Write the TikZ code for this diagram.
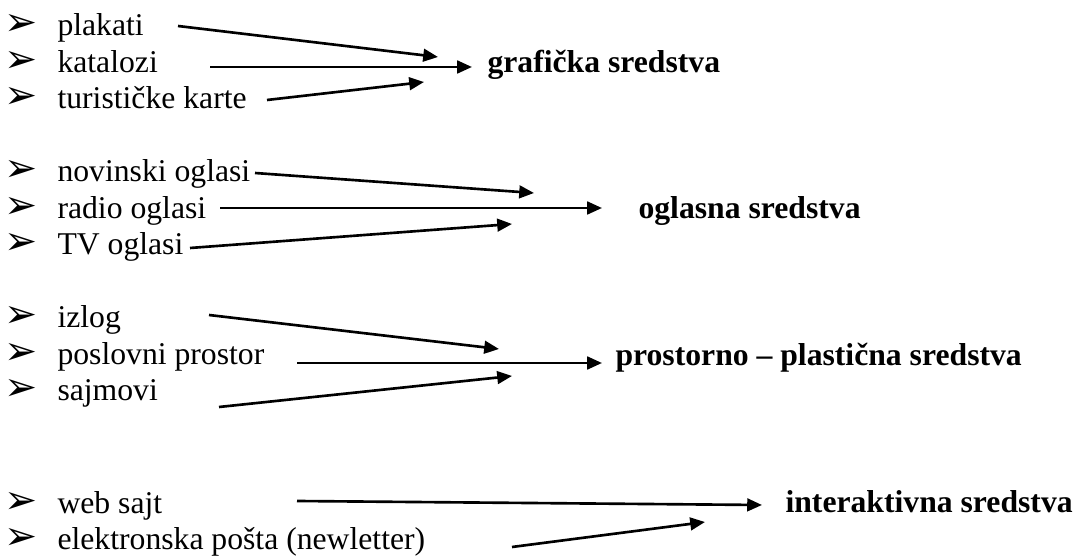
\documentclass[tikz,border=0pt]{standalone}
\usepackage{fontspec}
\setmainfont{Liberation Serif}
\newfontfamily\timesfont{Liberation Serif}
\newfontfamily\dingfont{DejaVu Sans}
\usetikzlibrary{arrows.meta, positioning}
\tikzset{
    item/.style={anchor=base west, inner sep=0pt, font=\timesfont\fontsize{12}{14}\selectfont},
    group/.style={anchor=base west, inner sep=0pt, font=\timesfont\fontsize{12}{14}\selectfont\bfseries},
    pointer/.style={anchor=center, inner sep=0pt, font=\dingfont\fontsize{15}{16}\selectfont},
    link/.style={-{Triangle[length=5.6pt, width=4.8pt]}, line width=1pt},
}

\begin{document}
\begin{tikzpicture}[x=0.3788pt, y=-0.3788pt]
    \useasboundingbox (0,0) rectangle (1078,557);

    % graficka sredstva
    \node[pointer] (b1) at (21,25) {➢};
    \node[pointer] (b2) at (21,61.5) {➢};
    \node[pointer] (b3) at (21,98) {➢};
    \node[item] (plakati) at (57,36) {plakati};
    \node[item] (katalozi) at (57,72.5) {katalozi};
    \node[item] (karte) at (57,109) {turističke karte};
    \node[group] (graficka) at (487,73) {grafička sredstva};

    \coordinate (plakati0) at (178,26);
    \coordinate (plakati1) at (438,57);
    \coordinate (katalozi0) at (210,67);
    \coordinate (katalozi1) at (472,67);
    \coordinate (karte0) at (267,100);
    \coordinate (karte1) at (424,82);
    \draw[link] (plakati0) -- (plakati1);
    \draw[link] (katalozi0) -- (katalozi1);
    \draw[link] (karte0) -- (karte1);

    % oglasna sredstva
    \node[pointer] (b4) at (21,171) {➢};
    \node[pointer] (b5) at (21,207.5) {➢};
    \node[pointer] (b6) at (21,244) {➢};
    \node[item] (novinski) at (57,182) {novinski oglasi};
    \node[item] (radio) at (57,218.5) {radio oglasi};
    \node[item] (tv) at (57,255) {TV oglasi};
    \node[group] (oglasna) at (638,218.5) {oglasna sredstva};

    \coordinate (novinski0) at (255,173);
    \coordinate (novinski1) at (534,193);
    \coordinate (radio0) at (220,208);
    \coordinate (radio1) at (602,208);
    \coordinate (tv0) at (190,248);
    \coordinate (tv1) at (512,224);
    \draw[link] (novinski0) -- (novinski1);
    \draw[link] (radio0) -- (radio1);
    \draw[link] (tv0) -- (tv1);

    % prostorno - plasticna sredstva
    \node[pointer] (b7) at (21,317) {➢};
    \node[pointer] (b8) at (21,353.5) {➢};
    \node[pointer] (b9) at (21,390) {➢};
    \node[item] (izlog) at (57,328) {izlog};
    \node[item] (prostor) at (57,364.5) {poslovni prostor};
    \node[item] (sajmovi) at (57,401) {sajmovi};
    \node[group] (prostorna) at (615,366) {prostorno – plastična sredstva};

    \coordinate (izlog0) at (209,315);
    \coordinate (izlog1) at (499,349);
    \coordinate (prostor0) at (297,363);
    \coordinate (prostor1) at (602,363);
    \coordinate (sajmovi0) at (219,407);
    \coordinate (sajmovi1) at (512,376);
    \draw[link] (izlog0) -- (izlog1);
    \draw[link] (prostor0) -- (prostor1);
    \draw[link] (sajmovi0) -- (sajmovi1);

    % interaktivna sredstva
    \node[pointer] (b10) at (21,503) {➢};
    \node[pointer] (b11) at (21,539) {➢};
    \node[item] (web) at (57,514) {web sajt};
    \node[item] (posta) at (57,550) {elektronska pošta (newletter)};
    \node[group] (interaktivna) at (785,513) {interaktivna sredstva};

    \coordinate (web0) at (297,501);
    \coordinate (web1) at (762,505);
    \coordinate (posta0) at (512,547);
    \coordinate (posta1) at (705,522);
    \draw[link] (web0) -- (web1);
    \draw[link] (posta0) -- (posta1);

\end{tikzpicture}
\end{document}
